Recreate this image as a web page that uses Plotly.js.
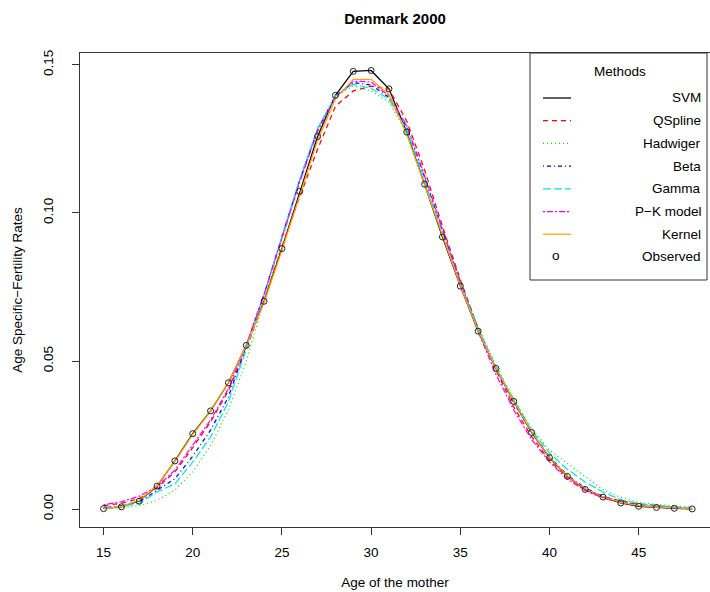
<!DOCTYPE html>
<html>
<head>
<meta charset="utf-8">
<script src="https://cdn.plot.ly/plotly-3.0.1.min.js"></script>
<style>html,body{margin:0;padding:0;background:#fff;}#chart{width:710px;height:592px;}</style>
</head>
<body>
<div id="chart"></div>
<script>
// ---- Data ----
const ages = [15,16,17,18,19,20,21,22,23,24,25,26,27,28,29,30,31,32,33,34,35,36,37,38,39,40,41,42,43,44,45,46,47,48];

const observed = [0.0002,0.0008,0.0027,0.0078,0.0163,0.0255,0.0332,0.0427,0.0553,0.0702,0.0880,0.1073,0.1258,0.1397,0.1478,0.1481,0.1419,0.1273,0.1097,0.0919,0.0753,0.0601,0.0475,0.0364,0.0259,0.0174,0.0111,0.0067,0.0041,0.0021,0.0010,0.0006,0.0003,0.0001];

const svm = [0.0003,0.0008,0.0028,0.0078,0.0163,0.0255,0.0332,0.0427,0.0553,0.0702,0.0880,0.1073,0.1258,0.1397,0.1478,0.1481,0.1419,0.1273,0.1097,0.0919,0.0753,0.0601,0.0475,0.0364,0.0259,0.0174,0.0111,0.0067,0.0041,0.0021,0.0010,0.0006,0.0003,0.0001];

const qspline = [0.0012,0.0020,0.0036,0.0072,0.0126,0.0208,0.0295,0.0400,0.0540,0.0705,0.0885,0.1055,0.1215,0.1360,0.1412,0.1428,0.1418,0.1310,0.1145,0.0955,0.0775,0.0610,0.0470,0.0345,0.0245,0.0165,0.0108,0.0068,0.0043,0.0028,0.0018,0.0011,0.0006,0.0003];

const hadwiger = [0.0001,0.0004,0.0012,0.0030,0.0065,0.0125,0.0215,0.0335,0.0500,0.0705,0.0910,0.1110,0.1285,0.1395,0.1428,0.1412,0.1375,0.1270,0.1100,0.0925,0.0765,0.0615,0.0485,0.0372,0.0272,0.0200,0.0155,0.0109,0.0066,0.0040,0.0024,0.0016,0.0011,0.0007];

const beta = [0.0005,0.0012,0.0025,0.0065,0.0103,0.0179,0.0267,0.0379,0.0550,0.0725,0.0920,0.1110,0.1280,0.1395,0.1440,0.1432,0.1390,0.1290,0.1120,0.0940,0.0770,0.0610,0.0475,0.0360,0.0260,0.0178,0.0115,0.0072,0.0043,0.0025,0.0014,0.0008,0.0004,0.0002];

const gamma = [0.0003,0.0010,0.0020,0.0058,0.0086,0.0159,0.0244,0.0362,0.0540,0.0725,0.0920,0.1115,0.1285,0.1395,0.1435,0.1420,0.1385,0.1280,0.1110,0.0930,0.0765,0.0610,0.0480,0.0370,0.0267,0.0190,0.0135,0.0092,0.0058,0.0032,0.0019,0.0012,0.0008,0.0005];

const pkModel = [0.0015,0.0025,0.0044,0.0077,0.0132,0.0216,0.0301,0.0407,0.0555,0.0725,0.0915,0.1105,0.1275,0.1390,0.1445,0.1442,0.1395,0.1295,0.1125,0.0945,0.0765,0.0600,0.0455,0.0335,0.0235,0.0160,0.0102,0.0063,0.0038,0.0022,0.0013,0.0007,0.0004,0.0002];

const kernel = [0.0002,0.0009,0.0030,0.0080,0.0162,0.0253,0.0331,0.0428,0.0552,0.0698,0.0874,0.1063,0.1245,0.1385,0.1451,0.1451,0.1400,0.1265,0.1095,0.0920,0.0755,0.0603,0.0476,0.0365,0.0261,0.0176,0.0112,0.0069,0.0042,0.0023,0.0012,0.0007,0.0004,0.0002];

const methodNames = ["SVM","QSpline","Hadwiger","Beta","Gamma","P\u2212K model","Kernel"];
const methodSeries = [svm, qspline, hadwiger, beta, gamma, pkModel, kernel];
const methodColors = ["#000000","#FF0000","#00E000","#0000FF","#00E5EE","#FF00FF","#FFA500"];
const methodDashes = ["solid","5px,4px","1px,3px","1px,3px,4px,3px","8px,3px","2px,2px,6px,2px","solid"];

const xTicks = [15,20,25,30,35,40,45];
const yTicks = [0.00,0.05,0.10,0.15];

// ---- Plot geometry (px) ----
const W = 710, H = 592, L = 80, R = 0, T = 53, B = 65;
const PW = W - L - R, PH = H - T - B;
const xp = px => (px - L) / PW;
const yp = py => (H - B - py) / PH;

const font = "Liberation Sans, Arial, Helvetica, sans-serif";

// ---- Data traces ----
const traces = methodNames.map((n, i) => ({
  x: ages, y: methodSeries[i], type: "scatter", mode: "lines", name: n,
  line: {color: methodColors[i], width: 1.25, dash: methodDashes[i]},
  showlegend: false, hoverinfo: "skip"
}));
traces.push({
  x: ages, y: observed, type: "scatter", mode: "markers", name: "Observed",
  marker: {symbol: "circle-open", size: 6, color: "#222", line: {width: 1, color: "#222"}},
  showlegend: false, hoverinfo: "skip"
});

// ---- Custom legend (R style) on an overlay 0..1 axis pair ----
const legendNames = methodNames.concat(["Observed"]);
const rowY = legendNames.map((n, i) => 98 + i * 22.7);
methodNames.forEach((n, i) => {
  traces.push({
    x: [xp(543), xp(571)], y: [yp(rowY[i]), yp(rowY[i])],
    xaxis: "x2", yaxis: "y2", type: "scatter", mode: "lines",
    line: {color: methodColors[i], width: 1.25, dash: methodDashes[i]},
    showlegend: false, hoverinfo: "skip", name: n + " (legend)"
  });
});

const shapes = [{
  type: "rect", xref: "paper", yref: "paper",
  x0: xp(530), x1: xp(707), y0: yp(280), y1: yp(53),
  line: {color: "#333", width: 1}, fillcolor: "rgba(255,255,255,1)", layer: "below"
}];
const annotations = [{
  xref: "paper", yref: "paper", x: xp(620), y: yp(72), text: "Methods",
  showarrow: false, xanchor: "center", yanchor: "middle", font: {family: font, size: 13.5, color: "#000"}
}];
legendNames.forEach((n, i) => {
  annotations.push({
    xref: "paper", yref: "paper", x: xp(703), y: yp(rowY[i]), text: n,
    showarrow: false, xanchor: "right", yanchor: "middle", font: {family: font, size: 13.5, color: "#000"}
  });
});
annotations.push({
  xref: "paper", yref: "paper", x: xp(556), y: yp(rowY[legendNames.length - 1] - 1), text: "o",
  showarrow: false, xanchor: "center", yanchor: "middle", font: {family: font, size: 13.5, color: "#000"}
});

const layout = {
  width: W, height: H,
  margin: {l: L, r: R, t: T, b: B, pad: 0},
  paper_bgcolor: "#fff", plot_bgcolor: "#fff",
  font: {family: font, size: 13.5, color: "#000"},
  title: {text: "<b>Denmark 2000</b>", x: 0.5, xref: "paper", y: 1 - 19/H, yanchor: "middle",
          font: {family: font, size: 15, color: "#000"}},
  xaxis: {
    range: [13.68, 49.0], tickvals: xTicks, ticktext: xTicks.map(String),
    ticks: "outside", ticklen: 7, tickwidth: 1, tickcolor: "#333",
    showline: true, linecolor: "#333", linewidth: 1, mirror: true,
    showgrid: false, zeroline: false, ticklabelstandoff: 6,
    tickfont: {family: font, size: 13.5, color: "#000"},
    title: {text: "Age of the mother", standoff: 18, font: {family: font, size: 13.5, color: "#000"}},
    automargin: false
  },
  yaxis: {
    range: [-0.006, 0.154], tickvals: yTicks, ticktext: yTicks.map(v => v.toFixed(2)),
    ticks: "outside", ticklen: 7, tickwidth: 1, tickcolor: "#333", tickangle: -90,
    showline: true, linecolor: "#333", linewidth: 1, mirror: true,
    showgrid: false, zeroline: false, ticklabelstandoff: 14,
    tickfont: {family: font, size: 13.5, color: "#000"},
    title: {text: "Age Specific\u2212Fertility Rates", standoff: 14, font: {family: font, size: 13.5, color: "#000"}},
    automargin: false
  },
  xaxis2: {overlaying: "x", anchor: "y2", range: [0, 1], visible: false, fixedrange: true},
  yaxis2: {overlaying: "y", anchor: "x2", range: [0, 1], visible: false, fixedrange: true},
  shapes: shapes,
  annotations: annotations,
  showlegend: false
};

Plotly.newPlot("chart", traces, layout, {displayModeBar: false, staticPlot: true});
</script>
</body>
</html>
